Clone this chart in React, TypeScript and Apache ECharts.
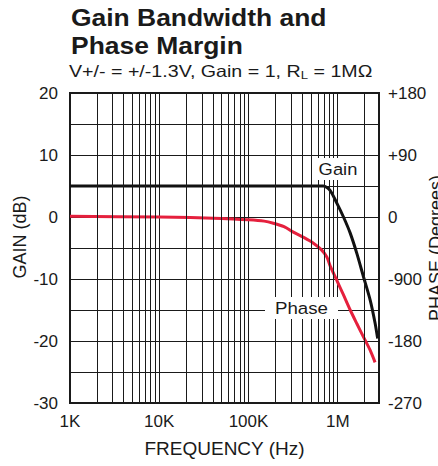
import React, { useEffect, useRef } from "react";
import * as echarts from "echarts";

const FONT = "'Liberation Sans', Arial, Helvetica, sans-serif";

// X axis (log frequency) tick labels
const freqTickValues = [1000, 10000, 100000, 1000000];
const freqTickLabels = ["1K", "10K", "100K", "1M"];
// minor grid decades and multipliers
const gridDecades = [1000, 10000, 100000, 1000000];
const gridMultipliers = [2, 3, 4, 5, 6, 7, 8, 9];

// Left axis (gain, dB)
const gainTickValues = [20, 10, 0, -10, -20, -30];
// Right axis (phase, degrees)
const phaseTickValues = [180, 90, 0, -90, -180, -270];
const phaseTickLabels = ["+180", "+90", "0", "-900", "-180", "-270"];

// Gain curve
const gainFreq = [1000, 10000, 100000, 500000, 690000, 820000, 980000, 1160000, 1380000, 1640000, 1940000, 2310000, 2620000, 2800000];
const gainDb = [5, 5, 5, 5, 5, 4.3, 2.2, 0, -2.6, -5.9, -9.6, -13.4, -17.1, -19.6];

// Phase curve
const phaseFreq = [1000, 10000, 50000, 100000, 150000, 190000, 250000, 318000, 420000, 534000, 650000, 755000, 822000, 977000, 1150000, 1380000, 1640000, 1940000, 2300000, 2620000];
const phaseDeg = [1, 0, -2, -4, -6, -9, -14, -22, -30, -38, -47, -58, -71, -92, -112, -135, -155, -174, -193, -211];

const INK = "#1a1a1a";
const RED = "#e5203d";

export default function App() {
  const ref = useRef<HTMLDivElement>(null);

  useEffect(() => {
    if (!ref.current) return;
    const chart = echarts.init(ref.current, undefined, { renderer: "svg" });

    const minorFreqs: number[] = [];
    gridDecades.forEach((d) => gridMultipliers.forEach((m) => {
      if (d * m <= 2900000) minorFreqs.push(d * m);
    }));

    const txt = (text: string, x: number, y: number, size: number, sx: number, align: string, bold = false) => ({
      type: "text", x, y, z: 11, scaleX: sx,
      style: {
        text, fill: INK, font: `${bold ? "bold " : ""}${size}px ${FONT}`,
        textAlign: align, textVerticalAlign: "middle", align, verticalAlign: "middle",
      },
    });

    const option: any = {
      animation: false,
      backgroundColor: "#ffffff",
      grid: {
        left: 70, top: 93, width: 309, height: 310,
        outerBoundsMode: "none", containLabel: false,
        show: true, borderColor: INK, borderWidth: 2, backgroundColor: "transparent",
      },
      xAxis: {
        type: "log", logBase: 10, min: 1000, max: 2900000,
        axisLine: { show: false }, axisTick: { show: false },
        splitLine: { show: true, lineStyle: { color: INK, width: 1 } },
        axisLabel: {
          formatter: (v: number) => {
            const i = freqTickValues.findIndex((t) => Math.abs(t - v) / t < 1e-6);
            return i >= 0 ? freqTickLabels[i] : "";
          },
          fontSize: 17, color: INK, margin: 10, fontFamily: FONT,
        },
        name: "FREQUENCY (Hz)", nameLocation: "middle", nameGap: 36, nameMoveOverlap: false,
        nameTextStyle: { fontSize: 19, color: INK, fontFamily: FONT },
      },
      yAxis: [
        {
          type: "value", min: -30, max: 20, interval: 5, position: "left",
          axisLine: { show: false }, axisTick: { show: false },
          splitLine: { show: true, lineStyle: { color: INK, width: 1 } },
          axisLabel: {
            formatter: (v: number) => (gainTickValues.includes(v) ? String(v) : ""),
            fontSize: 17, color: INK, margin: 12, fontFamily: FONT,
          },
          name: "GAIN (dB)", nameLocation: "middle", nameGap: 41, nameMoveOverlap: false,
          nameTextStyle: { fontSize: 18, color: INK, fontFamily: FONT, padding: [0, 0, 0, 22] },
        },
        {
          type: "value", min: -270, max: 180, interval: 45, position: "right",
          axisLine: { show: false }, axisTick: { show: false },
          splitLine: { show: false },
          axisLabel: {
            formatter: (v: number) => {
              const i = phaseTickValues.indexOf(v);
              return i >= 0 ? phaseTickLabels[i] : "";
            },
            fontSize: 17, color: INK, margin: 9, fontFamily: FONT,
          },
          name: "PHASE (Degrees)", nameLocation: "middle", nameGap: 48, nameMoveOverlap: false,
          nameTextStyle: { fontSize: 18, color: INK, fontFamily: FONT },
        },
      ],
      series: [
        {
          type: "line", data: [], silent: true, z: 1,
          markLine: {
            silent: true, symbol: ["none", "none"], label: { show: false },
            lineStyle: { color: INK, width: 1, type: "solid" },
            emphasis: { disabled: true },
            data: minorFreqs.map((f) => ({ xAxis: f })),
          },
        },
        {
          name: "Gain", type: "line", yAxisIndex: 0, z: 3,
          data: gainFreq.map((f, i) => [f, gainDb[i]]),
          showSymbol: false, smooth: 0.25,
          lineStyle: { color: "#111111", width: 3 },
        },
        {
          name: "Phase", type: "line", yAxisIndex: 1, z: 4,
          data: phaseFreq.map((f, i) => [f, phaseDeg[i]]),
          showSymbol: false, smooth: 0.25,
          lineStyle: { color: RED, width: 3 },
        },
      ],
      graphic: [
        txt("Gain Bandwidth and", 71, 18.5, 23, 1.15, "left", true),
        txt("Phase Margin", 71, 46.5, 23, 1.15, "left", true),
        {
          type: "text", x: 69, y: 72, z: 10, scaleX: 1.19,
          style: {
            text: "{n|V+/- = +/-1.3V, Gain = 1, R}{s|L}{n| = 1MΩ}",
            fill: INK, textAlign: "left", textVerticalAlign: "middle", align: "left", verticalAlign: "middle",
            rich: {
              n: { fontSize: 16.5, fontFamily: FONT, fill: INK, color: INK },
              s: { fontSize: 11, fontFamily: FONT, fill: INK, color: INK, padding: [7, 0, 0, 0] },
            },
          },
        },
        { type: "rect", z: 10, shape: { x: 317, y: 158, width: 46, height: 22 }, style: { fill: "#ffffff" } },
        txt("Gain", 338, 169, 17, 1.08, "center"),
        { type: "rect", z: 10, shape: { x: 265, y: 297, width: 73, height: 22 }, style: { fill: "#ffffff" } },
        txt("Phase", 301.5, 308, 17, 1.1, "center"),
      ],
    };

    chart.setOption(option);
    return () => chart.dispose();
  }, []);

  return (
    <div
      ref={ref}
      style={{ position: "fixed", left: 0, top: 0, width: 438, height: 466, background: "#fff" }}
    />
  );
}
